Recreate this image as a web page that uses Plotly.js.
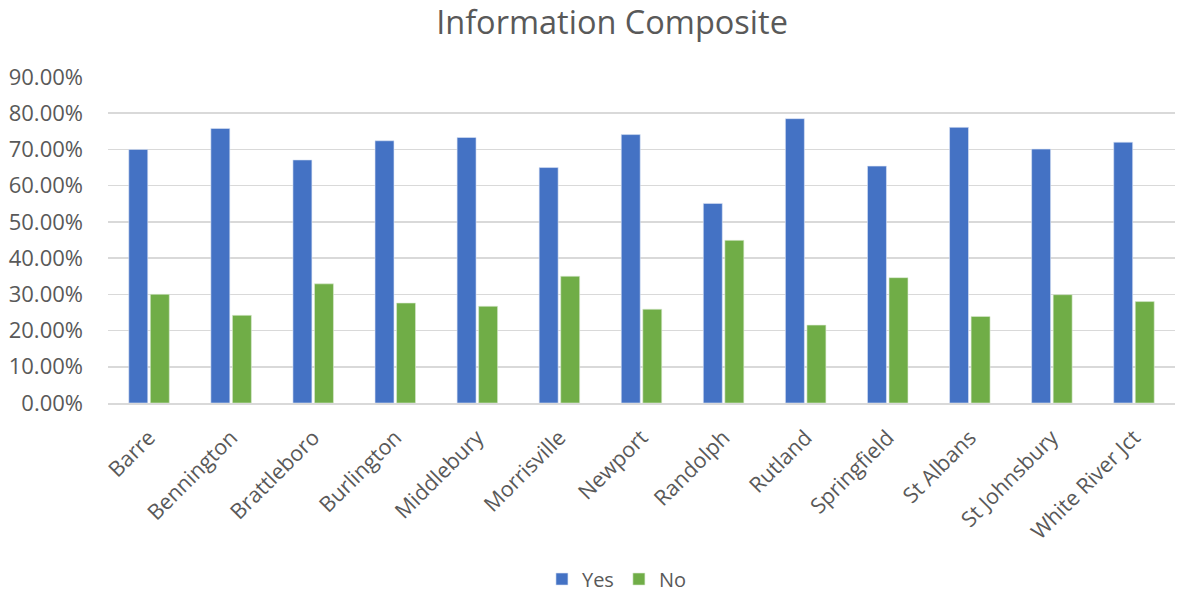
<!DOCTYPE html>
<html>
<head>
<meta charset="utf-8">
<script src="https://cdn.plot.ly/plotly-3.0.1.min.js"></script>
<style>html,body{margin:0;padding:0;background:#fff;}#chart{width:1194px;height:594px;}</style>
</head>
<body>
<div id="chart"></div>
<script>
const categories = ["Barre","Bennington","Brattleboro","Burlington","Middlebury","Morrisville","Newport","Randolph","Rutland","Springfield","St Albans","St Johnsbury","White River Jct"];
const yesValues = [0.700,0.758,0.671,0.724,0.733,0.650,0.741,0.551,0.785,0.654,0.761,0.701,0.720];
const noValues  = [0.300,0.242,0.329,0.276,0.267,0.350,0.259,0.449,0.215,0.346,0.239,0.299,0.280];
const seriesNames = ["Yes","No"];
const colors = ["#4472C4","#70AD47"];

const font = "'Open Sans', sans-serif";
const traces = [
  {type:"bar", name:seriesNames[0], x:categories, y:yesValues, marker:{color:colors[0], line:{color:"#dbe4f5", width:0.6}}},
  {type:"bar", name:seriesNames[1], x:categories, y:noValues, marker:{color:colors[1], line:{color:"#dcebd3", width:0.6}}}
];
const layout = {
  width:1194, height:594,
  margin:{l:108, r:19, t:77, b:191, autoexpand:false},
  paper_bgcolor:"#fff", plot_bgcolor:"#fff",
  font:{family:font, color:"#595959", size:20},
  title:{text:"Information Composite", x:0.5126, xanchor:"center", y:0.962, yanchor:"middle", font:{size:32.5, color:"#595959", family:font}},
  barmode:"group", bargap:0.475, bargroupgap:0.12,
  xaxis:{tickangle:-45, tickfont:{size:21.5, color:"#595959"}, showgrid:false, showline:true, linecolor:"#d9d9d9", linewidth:1.5, ticks:"", automargin:false, fixedrange:true, ticklabelstandoff:12},
  yaxis:{range:[0,0.9], dtick:0.1, tickformat:".2%", tickfont:{size:22, color:"#595959"}, showgrid:true, gridcolor:"#d9d9d9", gridwidth:1.5, zeroline:false, showline:false, ticks:"", automargin:false, ticklabelstandoff:24},
  legend:{orientation:"h", x:0.477, xanchor:"center", y:-0.54, yanchor:"middle", font:{size:20, color:"#595959"}, itemwidth:30, traceorder:"normal"},
  showlegend:true
};
Plotly.newPlot("chart", traces, layout, {displayModeBar:false, staticPlot:true});
</script>
</body>
</html>
